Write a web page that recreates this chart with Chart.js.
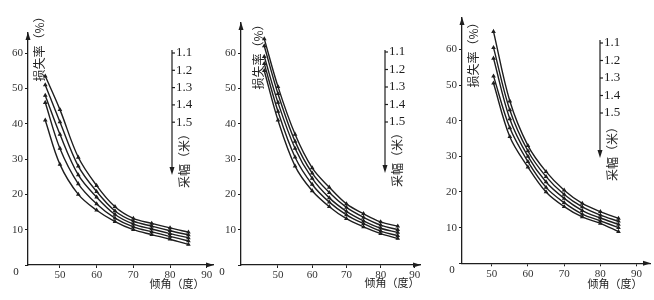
<!DOCTYPE html>
<html lang="zh-CN">
<head>
    <meta charset="UTF-8">
    <title>损失率与倾角关系</title>
    <script src="https://cdn.jsdelivr.net/npm/chart.js"></script>
    <style>
        * { margin: 0; padding: 0; box-sizing: border-box; }
        body { background: #fff; width: 654px; height: 300px; overflow: hidden; }
        .wrap { position: relative; width: 654px; height: 300px; }
        .panel { position: absolute; top: 0; width: 218px; height: 300px; }
    </style>
</head>
<body>
    <div class="wrap">
        <div class="panel" style="left:0"><canvas id="c1"></canvas></div>
        <div class="panel" style="left:218px"><canvas id="c2"></canvas></div>
        <div class="panel" style="left:436px"><canvas id="c3"></canvas></div>
    </div>

    <script>
        // 采幅（米）
        const widths = ['1.1', '1.2', '1.3', '1.4', '1.5'];
        const xTicks = [50, 60, 70, 80, 90];
        const yTicks = [0, 10, 20, 30, 40, 50, 60];

        // 左图
        const angles1 = [46, 50, 55, 60, 65, 70, 75, 80, 85];
        const loss1 = [
            [53.5, 44, 30.5, 22.5, 16.5, 13.2, 11.8, 10.5, 9.3],
            [51, 40.5, 28, 20.8, 15.3, 12.4, 11.0, 9.7, 8.5],
            [48, 37, 25.5, 19.2, 14.3, 11.6, 10.2, 8.9, 7.7],
            [46, 33, 23, 17.3, 13.3, 10.8, 9.4, 8.1, 6.8],
            [41, 28.5, 20, 15.5, 12.3, 10, 8.6, 7.3, 5.8]
        ];

        // 中图
        const angles2 = [46, 50, 55, 60, 65, 70, 75, 80, 85];
        const loss2 = [
            [64, 50.5, 37, 27.5, 22, 17.3, 14.5, 12.2, 11],
            [62, 48.5, 35, 26, 20.5, 16.3, 13.5, 11.3, 10],
            [59, 46, 33, 24.5, 19, 15.2, 12.5, 10.4, 9.2],
            [57, 43.5, 30.5, 22.8, 17.8, 14.2, 11.7, 9.6, 8.3],
            [55, 41, 28, 21, 16.5, 13.1, 10.8, 8.9, 7.5]
        ];

        // 右图
        const angles3 = [50.5, 55, 60, 65, 70, 75, 80, 85];
        const loss3 = [
            [65, 45.5, 33, 25.7, 20.5, 16.8, 14.5, 12.6],
            [60.5, 43, 31.5, 24.3, 19.3, 15.8, 13.5, 11.8],
            [57.5, 40.5, 30, 22.8, 18.2, 14.8, 12.7, 10.9],
            [52.5, 38, 28.5, 21.3, 17, 13.8, 11.9, 10],
            [50.5, 35.5, 27, 20, 15.9, 13, 11.2, 8.9]
        ];

        const ink = '#1e1e1e';
        const serif = "'Liberation Serif', 'DejaVu Serif', serif";
        const cjk = "'Noto Sans CJK SC', sans-serif";

        // 箭头、标题、采幅图例
        const decor = {
            id: 'decor',
            afterDraw(chart, args, o) {
                const ctx = chart.ctx;
                const a = chart.chartArea;
                ctx.save();
                ctx.strokeStyle = ink;
                ctx.fillStyle = ink;
                ctx.lineWidth = 1.2;

                // 坐标轴箭头
                ctx.beginPath();
                ctx.moveTo(a.left - 2.5, a.top + 7);
                ctx.lineTo(a.left, a.top - 1);
                ctx.lineTo(a.left + 2.5, a.top + 7);
                ctx.fill();
                ctx.beginPath();
                ctx.moveTo(a.right - 7, a.bottom - 2.5);
                ctx.lineTo(a.right + 1, a.bottom);
                ctx.lineTo(a.right - 7, a.bottom + 2.5);
                ctx.fill();

                // 原点 0
                ctx.font = '11px ' + serif;
                ctx.textAlign = 'center';
                ctx.textBaseline = 'middle';
                ctx.fillText('0', o.zero[0], o.zero[1]);

                // 纵轴标题
                ctx.save();
                ctx.translate(o.yTitle[0], o.yTitle[1]);
                ctx.rotate(-Math.PI / 2);
                ctx.font = '12px ' + cjk;
                ctx.fillText('损失率（%）', 0, 0);
                ctx.restore();

                // 横轴标题
                ctx.font = '11px ' + cjk;
                ctx.fillText('倾角（度）', o.xTitle[0], o.xTitle[1]);

                // 采幅图例
                const lx = o.legX;
                ctx.beginPath();
                ctx.moveTo(lx, o.legTop);
                ctx.lineTo(lx, o.legBottom - 6);
                ctx.stroke();
                ctx.beginPath();
                ctx.moveTo(lx - 2.5, o.legBottom - 8);
                ctx.lineTo(lx, o.legBottom);
                ctx.lineTo(lx + 2.5, o.legBottom - 8);
                ctx.fill();
                ctx.font = '13px ' + serif;
                ctx.textAlign = 'left';
                widths.forEach((w, i) => {
                    const y = o.legY[0] + i * o.legY[1];
                    ctx.beginPath();
                    ctx.moveTo(lx, y);
                    ctx.lineTo(lx + 3, y);
                    ctx.stroke();
                    ctx.fillText(w, lx + 4, y);
                });
                ctx.save();
                ctx.translate(o.legTitle[0], o.legTitle[1]);
                ctx.rotate(-Math.PI / 2);
                ctx.textAlign = 'center';
                ctx.font = '12px ' + cjk;
                ctx.fillText('采幅（米）', 0, 0);
                ctx.restore();

                ctx.restore();
            }
        };

        function makePanel(id, angles, losses, p) {
            new Chart(document.getElementById(id), {
                type: 'line',
                data: {
                    labels: angles,
                    datasets: losses.map((vals, i) => ({
                        label: widths[i],
                        data: vals.map((v, j) => ({ x: angles[j], y: v })),
                        borderColor: ink,
                        backgroundColor: ink,
                        borderWidth: 1.4,
                        pointStyle: 'triangle',
                        pointRadius: 1.3,
                        pointHoverRadius: 1.3,
                        tension: 0.35,
                        fill: false
                    }))
                },
                options: {
                    responsive: true,
                    maintainAspectRatio: false,
                    animation: false,
                    events: [],
                    layout: { padding: { top: p.top, right: p.right, left: 0, bottom: 0 } },
                    plugins: {
                        legend: { display: false },
                        tooltip: { enabled: false },
                        decor: p.decor
                    },
                    scales: {
                        x: {
                            type: 'linear',
                            min: p.xMin,
                            max: p.xMax,
                            afterBuildTicks: s => { s.ticks = xTicks.map(v => ({ value: v })); },
                            afterFit: s => { s.height = p.xH; },
                            grid: { drawOnChartArea: false, tickLength: 3, color: ink },
                            border: { color: ink, width: 1.3 },
                            ticks: { color: '#333', font: { family: serif, size: 11 }, padding: 1 }
                        },
                        y: {
                            min: 0,
                            max: p.yMax,
                            afterBuildTicks: s => { s.ticks = yTicks.map(v => ({ value: v })); },
                            afterFit: s => { s.width = p.yW; },
                            grid: { drawOnChartArea: false, tickLength: 3, color: ink },
                            border: { color: ink, width: 1.3 },
                            ticks: {
                                color: '#333',
                                font: { family: serif, size: 11 },
                                padding: 2,
                                callback: v => (v === 0 ? '' : v)
                            }
                        }
                    }
                },
                plugins: [decor]
            });
        }

        makePanel('c1', angles1, loss1, {
            top: 33, right: 5, xH: 35, yW: 28, xMin: 41.3, xMax: 91.7, yMax: 65.7,
            decor: {
                zero: [16, 272], yTitle: [39, 46], xTitle: [177, 284],
                legX: 172, legTop: 50, legBottom: 175, legY: [53, 17.3], legTitle: [184, 158]
            }
        });
        makePanel('c2', angles2, loss2, {
            top: 23, right: 16, xH: 35, yW: 23, xMin: 39.2, xMax: 91.5, yMax: 68.5,
            decor: {
                zero: [4, 272], yTitle: [40, 54], xTitle: [174, 283],
                legX: 167, legTop: 50, legBottom: 173, legY: [52, 17.5], legTitle: [179, 157]
            }
        });
        makePanel('c3', angles3, loss3, {
            top: 18, right: 4, xH: 36.7, yW: 26, xMin: 41.8, xMax: 93.7, yMax: 68.8,
            decor: {
                zero: [16, 270], yTitle: [37, 52], xTitle: [179, 284],
                legX: 164, legTop: 40, legBottom: 158, legY: [43, 17.5], legTitle: [176, 151]
            }
        });
    </script>
</body>
</html>
